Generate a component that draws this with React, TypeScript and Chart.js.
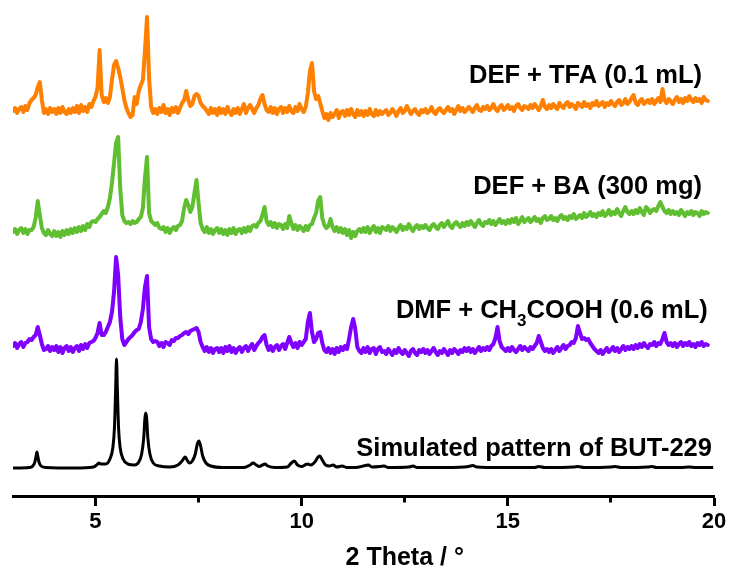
import React, { useEffect, useRef } from 'react';
import { Chart, registerables } from 'chart.js';

Chart.register(...registerables);

// Measurement grid (2θ, degrees)
const scanTwoTheta = [
  3.00, 3.05, 3.10, 3.15, 3.20, 3.25, 3.30, 3.35, 3.40, 3.45,
  3.50, 3.55, 3.60, 3.65, 3.70, 3.75, 3.80, 3.85, 3.90, 3.95,
  4.00, 4.05, 4.10, 4.15, 4.20, 4.25, 4.30, 4.35, 4.40, 4.45,
  4.50, 4.55, 4.60, 4.65, 4.70, 4.75, 4.80, 4.85, 4.90, 4.95,
  5.00, 5.05, 5.10, 5.15, 5.20, 5.25, 5.30, 5.35, 5.40, 5.45,
  5.50, 5.55, 5.60, 5.65, 5.70, 5.75, 5.80, 5.85, 5.90, 5.95,
  6.00, 6.05, 6.10, 6.15, 6.20, 6.25, 6.30, 6.35, 6.40, 6.45,
  6.50, 6.55, 6.60, 6.65, 6.70, 6.75, 6.80, 6.85, 6.90, 6.95,
  7.00, 7.05, 7.10, 7.15, 7.20, 7.25, 7.30, 7.35, 7.40, 7.45,
  7.50, 7.55, 7.60, 7.65, 7.70, 7.75, 7.80, 7.85, 7.90, 7.95,
  8.00, 8.05, 8.10, 8.15, 8.20, 8.25, 8.30, 8.35, 8.40, 8.45,
  8.50, 8.55, 8.60, 8.65, 8.70, 8.75, 8.80, 8.85, 8.90, 8.95,
  9.00, 9.05, 9.10, 9.15, 9.20, 9.25, 9.30, 9.35, 9.40, 9.45,
  9.50, 9.55, 9.60, 9.65, 9.70, 9.75, 9.80, 9.85, 9.90, 9.95,
  10.00, 10.05, 10.10, 10.15, 10.20, 10.25, 10.30, 10.35, 10.40, 10.45,
  10.50, 10.55, 10.60, 10.65, 10.70, 10.75, 10.80, 10.85, 10.90, 10.95,
  11.00, 11.05, 11.10, 11.15, 11.20, 11.25, 11.30, 11.35, 11.40, 11.45,
  11.50, 11.55, 11.60, 11.65, 11.70, 11.75, 11.80, 11.85, 11.90, 11.95,
  12.00, 12.05, 12.10, 12.15, 12.20, 12.25, 12.30, 12.35, 12.40, 12.45,
  12.50, 12.55, 12.60, 12.65, 12.70, 12.75, 12.80, 12.85, 12.90, 12.95,
  13.00, 13.05, 13.10, 13.15, 13.20, 13.25, 13.30, 13.35, 13.40, 13.45,
  13.50, 13.55, 13.60, 13.65, 13.70, 13.75, 13.80, 13.85, 13.90, 13.95,
  14.00, 14.05, 14.10, 14.15, 14.20, 14.25, 14.30, 14.35, 14.40, 14.45,
  14.50, 14.55, 14.60, 14.65, 14.70, 14.75, 14.80, 14.85, 14.90, 14.95,
  15.00, 15.05, 15.10, 15.15, 15.20, 15.25, 15.30, 15.35, 15.40, 15.45,
  15.50, 15.55, 15.60, 15.65, 15.70, 15.75, 15.80, 15.85, 15.90, 15.95,
  16.00, 16.05, 16.10, 16.15, 16.20, 16.25, 16.30, 16.35, 16.40, 16.45,
  16.50, 16.55, 16.60, 16.65, 16.70, 16.75, 16.80, 16.85, 16.90, 16.95,
  17.00, 17.05, 17.10, 17.15, 17.20, 17.25, 17.30, 17.35, 17.40, 17.45,
  17.50, 17.55, 17.60, 17.65, 17.70, 17.75, 17.80, 17.85, 17.90, 17.95,
  18.00, 18.05, 18.10, 18.15, 18.20, 18.25, 18.30, 18.35, 18.40, 18.45,
  18.50, 18.55, 18.60, 18.65, 18.70, 18.75, 18.80, 18.85, 18.90, 18.95,
  19.00, 19.05, 19.10, 19.15, 19.20, 19.25, 19.30, 19.35, 19.40, 19.45,
  19.50, 19.55, 19.60, 19.65, 19.70, 19.75, 19.80, 19.85,
];

// DEF + TFA (0.1 mL) – intensity above its own baseline (a.u.)
const tfaIntensity = [
  2, 5, 0, 4, 6, 1, 7, 3, 10, 13,
  15, 18, 26, 31, 13, 0, 4, -1, 5, 1,
  4, -1, 5, 0, 6, 1, -1, 4, 0, 5,
  1, 7, 0, 8, 2, 6, 1, 9, 6, 12,
  16, 25, 63, 18, 11, 15, 10, 16, 33, 48,
  52, 45, 36, 25, 13, 5, 0, -4, -2, 16,
  9, 22, 28, 33, 62, 96, 35, 6, 0, 4,
  -1, 5, 1, 8, 0, 4, -2, 5, 1, 6,
  0, 5, 10, 13, 22, 13, 7, 9, 17, 19,
  17, 10, 7, 5, 2, -1, 5, 0, 4, -2,
  5, 0, 4, -1, 6, 1, -2, 4, 0, 5,
  -1, 4, 9, 0, 5, 8, 4, 0, 5, 8,
  14, 18, 9, 3, 1, 6, 0, 5, -1, 4,
  6, 0, 5, 1, 7, 2, 0, 6, 2, 9,
  4, 1, 6, 20, 42, 50, 22, 14, 17, 10,
  2, -5, -1, -7, 0, -4, -1, 3, -5, 1,
  2, -3, 3, -2, 4, -1, -4, 3, -2, 2,
  -3, 2, -2, 4, -1, -3, 3, -2, 2, -1,
  1, 3, -2, 0, 4, 1, -3, 2, 5, 0,
  2, 7, 3, -1, 2, 4, 0, -2, 3, 1,
  4, 0, 2, 6, 1, -1, 3, 5, 2, 0,
  3, 6, 2, 4, -1, 3, 7, 2, 5, 1,
  3, 6, 4, 1, 5, 8, 3, 2, 6, 4,
  7, 3, 5, 9, 4, 2, 6, 8, 3, 5,
  8, 4, 6, 2, 7, 9, 5, 3, 7, 6,
  4, 8, 5, 9, 6, 3, 7, 13, 6, 4,
  8, 5, 9, 6, 4, 10, 7, 5, 9, 11,
  6, 9, 7, 4, 10, 8, 6, 11, 7, 9,
  5, 10, 8, 12, 7, 9, 11, 6, 10, 8,
  12, 9, 7, 11, 13, 8, 10, 14, 9, 11,
  15, 18, 10, 8, 12, 14, 9, 11, 13, 10,
  14, 9, 12, 15, 11, 24, 13, 10, 14, 12,
  9, 13, 16, 11, 14, 10, 15, 12, 17, 13,
  11, 15, 12, 14, 10, 16, 13, 12,
];

// DEF + BA (300 mg)
const baIntensity = [
  1, 4, -1, 3, 5, 0, 4, -1, 3, 3,
  6, 15, 32, 18, 5, 0, -2, 3, -1, -3,
  2, -3, 1, -4, 2, -2, 3, -1, 4, 0,
  5, 1, 6, 2, 7, 3, 9, 6, 11, 12,
  11, 14, 16, 19, 22, 20, 26, 35, 50, 70,
  90, 96, 45, 18, 12, 10, 11, 9, 12, 10,
  11, 14, 16, 25, 55, 76, 20, 12, 10, 8,
  10, 5, 4, 6, 1, 5, 0, 4, 6, 3,
  7, 8, 12, 25, 33, 28, 21, 26, 40, 53,
  30, 10, 4, 1, 6, 0, 4, -1, 3, 5,
  0, 4, -1, 3, -2, 4, 0, 5, -1, 3,
  4, 0, 5, 1, 6, 2, 7, 8, 6, 10,
  12, 18, 26, 12, 8, 11, 6, 10, 5, 9,
  8, 4, 9, 5, 17, 10, 4, 8, 3, 7,
  5, 2, 7, 3, 8, 9, 15, 20, 32, 36,
  15, 8, 5, 7, 14, 6, 2, 6, 1, 5,
  0, 4, -2, 3, -5, 1, -3, 2, 4, 1,
  5, 1, 6, 0, 4, 7, 1, 5, 0, 6,
  5, 3, 7, 2, 6, 4, 1, 5, 8, 3,
  6, 4, 9, 5, 2, 6, 8, 4, 7, 5,
  8, 5, 3, 7, 9, 6, 4, 8, 10, 6,
  9, 12, 7, 5, 9, 11, 8, 6, 10, 7,
  11, 8, 12, 9, 6, 10, 13, 9, 7, 11,
  10, 13, 9, 12, 8, 11, 14, 10, 12, 9,
  13, 10, 14, 11, 15, 9, 12, 16, 11, 13,
  15, 11, 13, 16, 12, 14, 10, 15, 17, 13,
  14, 17, 13, 15, 12, 16, 18, 14, 16, 13,
  17, 15, 19, 14, 16, 18, 15, 20, 16, 18,
  21, 17, 19, 16, 20, 18, 22, 17, 19, 23,
  18, 21, 19, 24, 20, 17, 22, 26, 21, 19,
  22, 19, 23, 20, 25, 21, 18, 26, 24, 20,
  23, 24, 22, 27, 31, 26, 22, 20, 23, 19,
  22, 19, 21, 18, 23, 20, 17, 21, 19, 22,
  18, 21, 20, 17, 22, 19, 21, 20,
];

// DMF + CH3COOH (0.6 mL)
const aceticIntensity = [
  1, 4, -1, 3, 5, 0, 4, 5, 8, 7,
  10, 12, 20, 12, 3, -3, -2, 1, -4, 0,
  -3, 1, -5, 0, -6, -1, 1, -4, 0, -5,
  -1, 1, -4, 2, -2, 3, -1, 4, 5, 6,
  9, 14, 24, 12, 12, 15, 20, 25, 35, 55,
  90, 72, 30, 8, 2, 5, 8, 10, 12, 15,
  17, 18, 25, 38, 60, 71, 20, 8, 5, 6,
  5, 1, 4, 0, 5, 4, 2, 7, 6, 9,
  9, 11, 12, 14, 15, 13, 16, 17, 18, 19,
  15, 5, 0, -4, 0, -5, -1, -6, -2, -1,
  -5, -1, -6, 0, -4, 1, -5, -1, -6, -2,
  0, -5, -1, 1, -4, 0, 3, -3, 1, 4,
  6, 10, 12, 2, -3, 1, -4, 0, 2, -3,
  1, 3, -2, 4, 10, 4, 0, 4, -1, 5,
  2, 5, 8, 25, 34, 15, 5, 8, 14, 15,
  4, -3, -5, -1, -6, -2, -7, -1, -5, 0,
  -3, 1, -2, 8, 20, 28, 18, 0, -4, -6,
  -1, -5, 0, -6, -2, -1, -7, -2, 0, -5,
  -4, -7, -2, -5, -8, -3, -6, -1, -5, -7,
  -3, -6, -9, -4, -2, -6, -8, -3, -5, -2,
  -6, -3, -7, -4, -1, -5, -8, -4, -6, -2,
  -5, -8, -3, -6, -2, -4, -7, -3, -5, -1,
  -4, -1, -5, -2, -6, -3, 0, -4, -1, -3,
  0, -3, 1, 3, 9, 20, 6, 0, -2, -4,
  -1, -4, 0, -3, -5, -2, 1, -3, 0, -2,
  -4, 0, -2, 1, 4, 11, 5, -1, -4, -2,
  -5, -2, -6, -3, 0, -4, -1, 2, -2, 1,
  2, 5, 4, 9, 21, 14, 8, 9, 7, 8,
  4, 1, -2, -4, -6, -3, -7, -4, -1, -5,
  -3, 0, -4, -1, -5, -2, 1, -3, 0, -2,
  1, -2, 2, -1, 3, 0, 4, 1, -1, 3,
  2, 5, 1, 4, 3, 8, 14, 5, 2, 4,
  1, 4, 0, 3, 5, 1, 4, 2, 5, 1,
  3, 0, 4, 2, 5, 1, 3, 2,
];

// Simulated pattern of BUT-229
const simTwoTheta = [
  3.0, 3.4, 3.48, 3.53, 3.56, 3.58, 3.60, 3.63, 3.68, 3.8,
  4.5, 4.95, 5.03, 5.08, 5.13, 5.25, 5.35, 5.42, 5.46, 5.49,
  5.51, 5.53, 5.56, 5.60, 5.67, 5.78, 5.95, 6.05, 6.12, 6.17,
  6.20, 6.22, 6.24, 6.27, 6.32, 6.40, 6.55, 6.8, 7.0, 7.1,
  7.15, 7.18, 7.22, 7.28, 7.35, 7.42, 7.47, 7.51, 7.55, 7.60,
  7.68, 7.8, 8.1, 8.6, 8.75, 8.82, 8.90, 8.97, 9.05, 9.11,
  9.18, 9.35, 9.65, 9.75, 9.82, 9.90, 10.0, 10.1, 10.15, 10.22,
  10.32, 10.40, 10.44, 10.50, 10.58, 10.68, 10.76, 10.85, 10.98, 11.1,
  11.3, 11.55, 11.62, 11.7, 11.9, 12.0, 12.1, 12.6, 12.7, 12.8,
  13.5, 14.05, 14.15, 14.25, 14.8, 15.65, 15.75, 15.9, 16.6, 16.7,
  16.85, 17.5, 17.6, 17.75, 18.4, 18.5, 18.6, 19.2, 19.4, 19.55,
  19.98,
];
const simIntensity = [
  0, 0.5, 2, 6, 12, 16, 12, 6, 2, 0.5,
  0, 1, 3, 5, 4, 4, 9, 20, 40, 80,
  109, 80, 40, 20, 9, 4, 3, 6, 14, 30,
  50, 55, 50, 30, 14, 5, 2, 1, 3, 7,
  10, 11, 8, 5, 7, 14, 24, 27, 22, 12,
  5, 2, 0.5, 0.5, 3, 5, 3, 1.5, 3, 4,
  2, 0.5, 1, 5, 7, 3, 1.5, 3.5, 4, 3,
  6, 11, 12, 8, 3, 2, 3, 1, 2, 0.5,
  0.5, 2.5, 3, 1, 1.5, 2, 0.5, 1, 2, 0.5,
  0.5, 1.5, 2.5, 1, 0.5, 0.5, 1.5, 0.5, 1, 1.5,
  0.5, 1, 1.5, 0.5, 1, 1.5, 0.5, 0.5, 1, 0.5,
  0.5,
];

// vertical stacking offsets (a.u.), top to bottom
const stackOffsets = [383, 263, 149, 28];
const seriesLabels = [
  'DEF + TFA (0.1 mL)',
  'DEF + BA (300 mg)',
  'DMF + CH_3COOH (0.6 mL)',
  'Simulated pattern of BUT-229',
];
const axisTitle = '2 Theta / °';
const majorTicks = [5, 10, 15, 20];
const minorTicks = [7.5, 12.5, 17.5];
const xMin = 3;
const xMax = 20;

const FONT_FAMILY = '"Liberation Sans", Arial, Helvetica, sans-serif';

// label anchors: right edge (2θ) and baseline (a.u.)
const LABEL_ANCHORS = [
  { x: 19.71, y: 413 },
  { x: 19.71, y: 302 },
  { x: 19.85, y: 178 },
  { x: 19.95, y: 40 },
];

const annotationPlugin = {
  id: 'xrdAnnotations',
  afterDraw(chart: any) {
    const { ctx, scales } = chart;
    const xs = scales.x;
    const ys = scales.y;
    ctx.save();
    ctx.fillStyle = '#000';
    ctx.textBaseline = 'alphabetic';
    ctx.textAlign = 'left';
    const mainFont = `bold 25.5px ${FONT_FAMILY}`;
    const subFont = `bold 17px ${FONT_FAMILY}`;
    seriesLabels.forEach((label, i) => {
      const pieces = label.split('_');
      const segs: { t: string; sub: boolean }[] = [];
      pieces.forEach((p, k) => {
        if (k === 0) segs.push({ t: p, sub: false });
        else {
          segs.push({ t: p.charAt(0), sub: true });
          segs.push({ t: p.slice(1), sub: false });
        }
      });
      let total = 0;
      segs.forEach((s) => {
        ctx.font = s.sub ? subFont : mainFont;
        total += ctx.measureText(s.t).width;
      });
      const right = xs.getPixelForValue(LABEL_ANCHORS[i].x);
      const base = ys.getPixelForValue(LABEL_ANCHORS[i].y);
      let x = right - total;
      segs.forEach((s) => {
        ctx.font = s.sub ? subFont : mainFont;
        ctx.fillText(s.t, x, s.sub ? base + 8 : base);
        x += ctx.measureText(s.t).width;
      });
    });
    // axis title
    ctx.font = `bold 25px ${FONT_FAMILY}`;
    ctx.textAlign = 'center';
    ctx.fillText(axisTitle, xs.getPixelForValue(12.5), xs.bottom - 6);
    ctx.restore();
  },
};

export default function App() {
  const ref = useRef<HTMLCanvasElement>(null);
  useEffect(() => {
    if (!ref.current) return;
    const traces = [tfaIntensity, baIntensity, aceticIntensity];
    const colors = ['#FF8000', '#5FBF30', '#8000FF'];
    const datasets: any[] = traces.map((tr, k) => ({
      label: seriesLabels[k],
      data: scanTwoTheta.map((a, i) => ({ x: a, y: tr[i] + stackOffsets[k] })),
      borderColor: colors[k],
      borderWidth: 4,
      borderJoinStyle: 'round',
      borderCapStyle: 'round',
      pointRadius: 0,
      tension: 0,
      fill: false,
    }));
    datasets.push({
      label: seriesLabels[3],
      data: simTwoTheta.map((a, i) => ({ x: a, y: simIntensity[i] + stackOffsets[3] })),
      borderColor: '#000',
      borderWidth: 3,
      borderJoinStyle: 'round',
      pointRadius: 0,
      cubicInterpolationMode: 'monotone',
      fill: false,
    });
    const allTicks = [...majorTicks, ...minorTicks].sort((a, b) => a - b);
    const chart = new Chart(ref.current, {
      type: 'line',
      data: { datasets },
      options: {
        animation: false,
        responsive: false,
        devicePixelRatio: 1,
        layout: { padding: { left: 13, right: 17, top: 10, bottom: 0 } },
        plugins: { legend: { display: false }, tooltip: { enabled: false }, title: { display: false } },
        scales: {
          x: {
            type: 'linear',
            min: xMin,
            max: xMax,
            afterBuildTicks: (axis: any) => {
              axis.ticks = allTicks.map((v) => ({ value: v }));
            },
            afterFit: (axis: any) => {
              axis.height = 75;
            },
            ticks: {
              autoSkip: false,
              maxRotation: 0,
              padding: 3,
              color: '#000',
              font: { family: FONT_FAMILY, weight: 'bold', size: 22 },
              callback: (v: any) => (majorTicks.includes(Number(v)) ? String(v) : ''),
            },
            grid: {
              drawOnChartArea: false,
              drawTicks: true,
              tickLength: 10,
              tickWidth: 3,
              tickColor: '#000',
              tickBorderDash: (c: any) => (minorTicks.includes(c.tick?.value) ? [4.5, 30] : []),
            },
            border: { display: true, color: '#000', width: 3 },
          },
          y: { display: false, min: 0, max: 486 },
        },
      } as any,
      plugins: [annotationPlugin],
    });
    return () => chart.destroy();
  }, []);
  return (
    <div style={{ position: 'absolute', left: 0, top: 0, width: 731, height: 571, background: '#fff' }}>
      <canvas ref={ref} width={731} height={571} style={{ display: 'block' }} />
    </div>
  );
}
